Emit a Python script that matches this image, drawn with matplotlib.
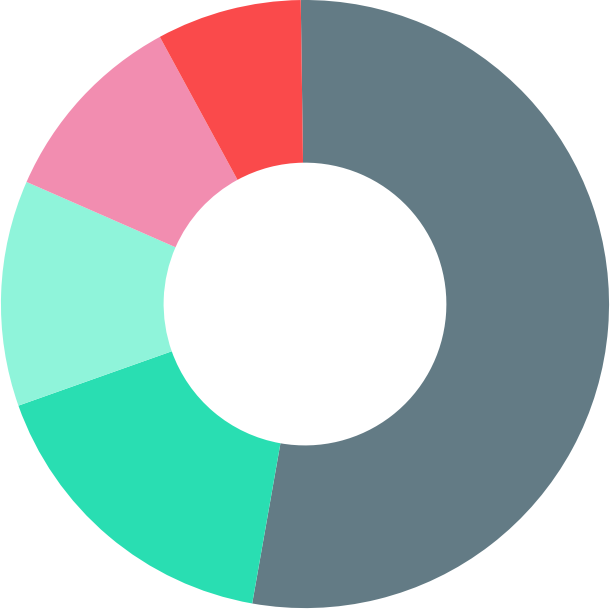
import matplotlib
matplotlib.use("Agg")
import matplotlib.pyplot as plt

# share of each slice, clockwise from 12 o'clock
labels = ["A", "B", "C", "D", "E"]
values = [53.0, 16.8, 12.0, 10.5, 7.7]
colors = ["#637b85", "#29deb2", "#8ff4da", "#f28db0", "#fa4a4b"]

fig = plt.figure(figsize=(6.10, 6.09), dpi=100)
ax = fig.add_axes([0, 0, 1, 1])

ax.pie(values, colors=colors, startangle=90.8, counterclock=False,
       radius=1.0, wedgeprops=dict(width=0.535, edgecolor="none"))

ax.set_xlim(-1.003, 1.003)
ax.set_ylim(-1.003, 1.0)
ax.set_aspect("equal")
ax.axis("off")

plt.savefig("out.png", dpi=100, facecolor="white")
